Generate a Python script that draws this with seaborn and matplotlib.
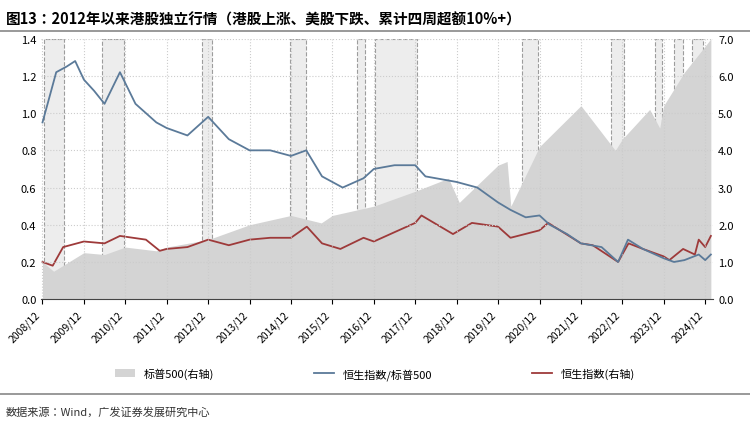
import numpy as np
import pandas as pd
import seaborn as sns
import matplotlib.pyplot as plt

plt.rcParams['font.family'] = ['Noto Sans CJK SC', 'Noto Sans CJK TC', 'Noto Sans CJK JP', 'DejaVu Sans']
plt.rcParams['axes.unicode_minus'] = False

# ratio HSI / S&P500 (left axis)
ratio_dates = ['2008-12-01', '2009-01-15', '2009-04-01', '2009-07-01', '2009-09-15', '2009-12-01', '2010-03-01',
               '2010-06-01', '2010-10-15', '2011-03-01', '2011-06-01', '2011-09-01', '2011-12-01', '2012-06-01',
               '2012-12-01', '2013-06-01', '2013-12-01', '2014-06-01', '2014-12-01', '2015-04-15', '2015-09-01',
               '2015-12-01', '2016-03-01', '2016-09-01', '2016-12-01', '2017-06-01', '2017-12-01', '2018-03-01',
               '2018-06-01', '2018-12-01', '2019-06-01', '2019-12-01', '2020-03-20', '2020-08-01', '2020-12-01',
               '2021-03-01', '2021-08-01', '2021-12-01', '2022-06-01', '2022-10-25', '2023-01-20', '2023-06-01',
               '2023-12-01', '2024-03-01', '2024-06-01', '2024-10-05', '2024-12-01', '2025-01-20']
ratio_vals = [0.95, 1.05, 1.22, 1.25, 1.28, 1.18, 1.12, 1.05, 1.22, 1.05, 1.0, 0.95, 0.92, 0.88,
              0.98, 0.86, 0.80, 0.80, 0.77, 0.80, 0.66, 0.63, 0.60, 0.65, 0.70, 0.72, 0.72, 0.66,
              0.65, 0.63, 0.60, 0.52, 0.48, 0.44, 0.45, 0.40, 0.35, 0.30, 0.28, 0.20, 0.32, 0.27,
              0.22, 0.20, 0.21, 0.24, 0.21, 0.24]

# Hang Seng (right axis)
hsi_dates = ['2008-12-01', '2009-03-01', '2009-06-01', '2009-12-01', '2010-06-01', '2010-10-15', '2011-06-01',
             '2011-10-01', '2011-12-01', '2012-06-01', '2012-12-01', '2013-06-01', '2013-12-01', '2014-06-01',
             '2014-12-01', '2015-04-20', '2015-09-01', '2016-02-10', '2016-09-01', '2016-12-01', '2017-06-01',
             '2017-12-01', '2018-01-25', '2018-10-30', '2019-04-15', '2019-12-01', '2020-03-20', '2020-12-01',
             '2021-02-15', '2021-12-01', '2022-03-15', '2022-10-25', '2023-01-25', '2023-06-01', '2023-12-01',
             '2024-01-20', '2024-05-20', '2024-09-01', '2024-10-05', '2024-12-01', '2025-01-20']
hsi_vals = [1.0, 0.9, 1.4, 1.55, 1.5, 1.7, 1.6, 1.3, 1.35, 1.4, 1.6, 1.45, 1.6, 1.65,
            1.65, 1.95, 1.5, 1.35, 1.65, 1.55, 1.8, 2.05, 2.25, 1.75, 2.05, 1.95, 1.65, 1.85,
            2.05, 1.5, 1.45, 1.0, 1.5, 1.35, 1.15, 1.05, 1.35, 1.2, 1.6, 1.4, 1.7]

# S&P 500 (right axis)
spx_dates = ['2008-12-01', '2009-03-09', '2009-12-01', '2010-06-01', '2010-12-01', '2011-09-01', '2011-12-01',
             '2012-12-01', '2013-12-01', '2014-12-01', '2015-08-25', '2015-12-01', '2016-12-01', '2017-12-01',
             '2018-09-20', '2018-12-24', '2019-12-01', '2020-02-19', '2020-03-23', '2020-12-01', '2021-12-01',
             '2022-09-30', '2022-12-01', '2023-07-30', '2023-10-27', '2023-12-01', '2024-06-01', '2024-12-01',
             '2025-01-20']
spx_vals = [1.0, 0.75, 1.25, 1.2, 1.4, 1.3, 1.4, 1.6, 2.0, 2.25, 2.05, 2.25, 2.5, 2.9,
            3.25, 2.6, 3.6, 3.7, 2.5, 4.1, 5.2, 4.0, 4.3, 5.1, 4.6, 5.2, 6.1, 6.8, 7.0]

# periods: HK up, US down, 4-week excess > 10%
period_start = ['2008-12-10', '2010-05-10', '2012-10-05', '2014-11-20', '2016-07-05', '2016-12-10',
                '2020-07-01', '2022-08-25', '2023-09-15', '2024-03-01', '2024-08-05']
period_end = ['2009-06-10', '2010-11-20', '2013-01-05', '2015-04-10', '2016-09-15', '2017-12-15',
              '2020-11-20', '2022-12-20', '2023-11-20', '2024-05-20', '2024-11-15']

ratio_df = pd.DataFrame({'date': pd.to_datetime(ratio_dates), 'v': ratio_vals})
hsi_df = pd.DataFrame({'date': pd.to_datetime(hsi_dates), 'v': hsi_vals})
spx_df = pd.DataFrame({'date': pd.to_datetime(spx_dates), 'v': spx_vals})

fig = plt.figure(figsize=(7.5, 4.27), dpi=100)
ax = fig.add_axes([0.055, 0.297, 0.896, 0.61])
ax2 = ax.twinx()
ax.set_zorder(ax2.get_zorder() + 1)
ax.patch.set_visible(False)

ax2.fill_between(spx_df['date'], spx_df['v'], color='#d4d4d4', lw=0, label='标普500(右轴)')
for s, e in zip(period_start, period_end):
    ax2.axvspan(pd.Timestamp(s), pd.Timestamp(e), facecolor='#e6e6e6', alpha=0.7,
                edgecolor='#777777', ls='--', lw=0.8, zorder=0)
sns.lineplot(data=hsi_df, x='date', y='v', ax=ax2, color='#9e3a3a', lw=1.3, label='恒生指数(右轴)', legend=False)
sns.lineplot(data=ratio_df, x='date', y='v', ax=ax, color='#5b7a99', lw=1.3, label='恒生指数/标普500', legend=False)

ax.set_ylim(0, 1.4)
ax2.set_ylim(0, 7.0)
ax.set_yticks(np.arange(0, 1.41, 0.2))
ax2.set_yticks(np.arange(0, 7.01, 1.0))
ax.yaxis.set_major_formatter(plt.FuncFormatter(lambda v, p: f'{v:.1f}'))
ax2.yaxis.set_major_formatter(plt.FuncFormatter(lambda v, p: f'{v:.1f}'))
ax.set_xlim(pd.Timestamp('2008-11-20'), pd.Timestamp('2025-02-10'))
ticks = pd.date_range('2008-12-01', '2024-12-01', freq='12MS')
ax.set_xticks(ticks)
ax.set_xticklabels([t.strftime('%Y/%m') for t in ticks], rotation=45, ha='right', fontsize=7.5)
ax.tick_params(axis='y', labelsize=8, length=0)
ax2.tick_params(axis='y', labelsize=8, length=0)
ax.grid(True, ls=':', color='#cccccc', lw=0.8)
ax.set_xlabel('')
ax.set_ylabel('')
ax2.set_ylabel('')
for a in (ax, ax2):
    for sp in ['top', 'right', 'left']:
        a.spines[sp].set_visible(False)
ax.spines['bottom'].set_color('#444444')
ax2.spines['bottom'].set_visible(False)

h2, l2 = ax2.get_legend_handles_labels()
h1, l1 = ax.get_legend_handles_labels()
lookup = dict(zip(l2 + l1, h2 + h1))
order = ['标普500(右轴)', '恒生指数/标普500', '恒生指数(右轴)']
fig.legend([lookup[o] for o in order], order, loc='lower center', bbox_to_anchor=(0.5, 0.085), ncol=3,
           frameon=False, fontsize=8, columnspacing=9, handlelength=1.8)

fig.text(0.008, 0.955, '图13：2012年以来港股独立行情（港股上涨、美股下跌、累计四周超额10%+）',
         fontsize=10.5, fontweight='bold', va='center')
fig.add_artist(plt.Line2D([0, 1], [0.925, 0.925], color='#888888', lw=1.2))
fig.add_artist(plt.Line2D([0, 1], [0.075, 0.075], color='#888888', lw=1.2))
fig.text(0.008, 0.035, '数据来源：Wind，广发证券发展研究中心', fontsize=8, color='#333333', va='center')

fig.savefig('out.png', dpi=100)
